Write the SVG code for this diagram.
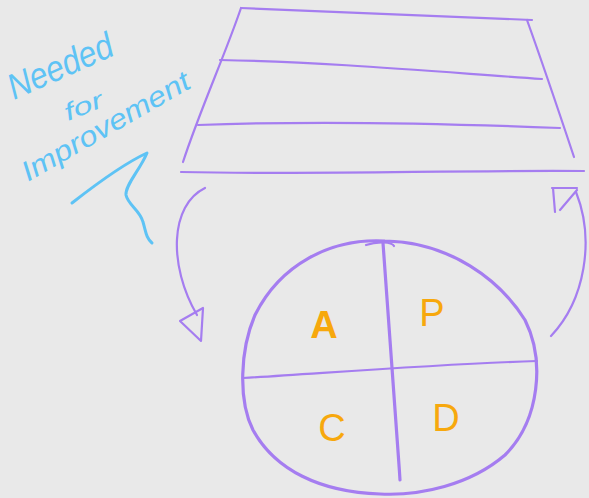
<svg xmlns="http://www.w3.org/2000/svg" width="589" height="498" viewBox="0 0 589 498">
<style>
.p{fill:none;stroke:#a57df0;stroke-width:2.2;stroke-linecap:round;stroke-linejoin:round}
.pt{fill:none;stroke:#a57df0;stroke-width:3.2;stroke-linecap:round;stroke-linejoin:round}
.b{fill:none;stroke:#5ec3f5;stroke-width:3;stroke-linecap:round;stroke-linejoin:round}
.bt{font-family:"Liberation Sans",sans-serif;fill:#5ec3f5;font-style:italic}
.o{font-family:"Liberation Sans",sans-serif;fill:#f7a80d;font-size:38px;text-anchor:middle}
</style>
<rect width="589" height="498" fill="#e9e9e9"/>
<g id="stack">
<path class="p" d="M241,8 C330,12 430,16 532,20"/>
<path class="p" d="M241,8 C225,55 200,110 183,162"/>
<path class="p" d="M527,20 C545,70 560,115 574,157"/>
<path class="p" d="M220,60 C330,62 440,72 542,79"/>
<path class="p" d="M198,125 C330,120 460,124 560,128"/>
<path class="p" d="M181,172 C320,175 450,170 584,171"/>
</g>
<g id="cycle">
<path class="pt" d="M385,241 C450,242 500,280 525,320 C545,360 540,420 505,455 C470,485 420,496 380,494 C320,492 275,470 253,430 C238,400 240,350 255,315 C280,265 330,238 385,241 Z"/>
<path class="pt" d="M383,243 C388,320 395,400 400,480"/>
<path class="p" d="M366,245 C378,241 392,242 394,246"/>
<path class="p" d="M243,378 C340,372 440,364 537,361"/>
<text class="o" x="324" y="338" font-weight="bold">A</text>
<text class="o" x="432" y="326" font-size="30">P</text>
<text class="o" x="332" y="441">C</text>
<text class="o" x="446" y="431" font-size="42">D</text>
</g>
<g id="connectors">
<path class="p" d="M205,188 C170,205 168,265 197,315"/>
<path class="p" d="M180,321 L203,308 L201,341 Z"/>
<path class="p" d="M551,336 C585,300 595,240 576,192"/>
<path class="p" d="M552,188 L577,188 M553,188 L555,212 M560,210 L577,190"/>
</g>
<g id="note">
<text class="bt" font-size="36" transform="translate(14,100) rotate(-24)" textLength="112" lengthAdjust="spacingAndGlyphs">Needed</text>
<text class="bt" font-size="24" transform="translate(68,121) rotate(-22)" textLength="40" lengthAdjust="spacingAndGlyphs">for</text>
<text class="bt" font-size="28" transform="translate(28,182) rotate(-30)" textLength="190" lengthAdjust="spacingAndGlyphs">Improvement</text>
<path class="b" d="M72,203 C95,185 125,163 147,153 C140,170 125,185 126,195 C128,205 140,210 143,222 C146,232 146,238 152,243"/>
</g>
</svg>
